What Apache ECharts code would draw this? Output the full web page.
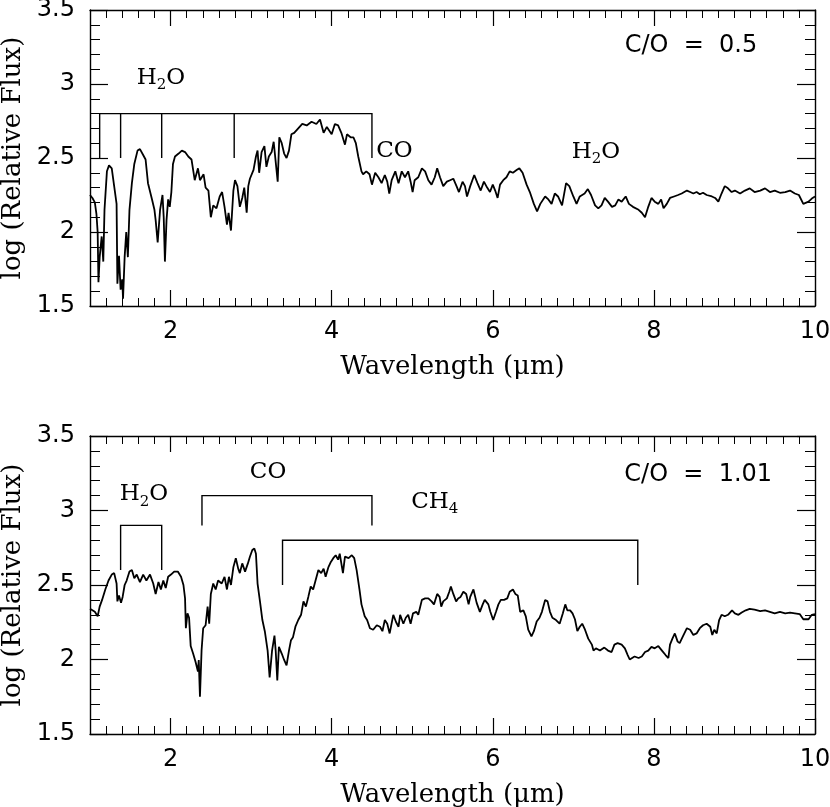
<!DOCTYPE html>
<html>
<head>
<meta charset="utf-8">
<title>Model spectra, C/O = 0.5 and 1.01</title>
<script src="https://cdn.jsdelivr.net/npm/echarts@6/dist/echarts.min.js"></script>
</head>
<body style="margin:0;background:#fff">
<div id="chart" style="width:830px;height:807px;"></div>
<script>
// tick values
var xMajorTicks = [2, 4, 6, 8, 10];

// spectrum, C/O = 0.5  [wavelength (um), log relative flux]
var specTop = [
  [1.00,2.25],[1.03,2.23],[1.06,2.20],[1.08,2.12],[1.095,2.00],[1.105,1.66],[1.12,1.83],[1.145,1.97],[1.165,1.80],[1.18,2.15],
  [1.21,2.41],[1.236,2.45],[1.27,2.43],[1.30,2.31],[1.33,2.19],[1.34,1.65],[1.36,1.84],[1.38,1.61],[1.40,1.68],[1.41,1.55],
  [1.43,1.83],[1.45,2.00],[1.47,1.83],[1.49,2.15],[1.52,2.33],[1.55,2.46],[1.59,2.55],[1.62,2.56],[1.66,2.52],[1.69,2.49],
  [1.72,2.33],[1.77,2.22],[1.80,2.15],[1.815,2.08],[1.84,1.93],[1.87,2.15],[1.90,2.25],[1.915,2.10],[1.93,1.80],[1.95,2.08],
  [1.97,2.22],[1.99,2.17],[2.01,2.27],[2.03,2.46],[2.055,2.51],[2.10,2.53],[2.14,2.55],[2.18,2.54],[2.22,2.51],[2.26,2.49],
  [2.30,2.35],[2.34,2.43],[2.365,2.35],[2.41,2.39],[2.435,2.30],[2.47,2.28],[2.50,2.10],[2.53,2.18],[2.57,2.16],[2.61,2.24],
  [2.64,2.27],[2.67,2.17],[2.70,2.05],[2.72,2.13],[2.75,2.01],[2.78,2.28],[2.80,2.35],[2.83,2.31],[2.86,2.17],[2.89,2.23],
  [2.915,2.30],[2.945,2.13],[2.965,2.31],[2.985,2.36],[3.03,2.42],[3.06,2.51],[3.08,2.55],[3.10,2.40],[3.13,2.54],[3.165,2.58],
  [3.19,2.44],[3.22,2.51],[3.255,2.54],[3.28,2.61],[3.30,2.62],[3.33,2.34],[3.35,2.64],[3.38,2.60],[3.41,2.53],[3.44,2.50],
  [3.47,2.55],[3.50,2.66],[3.535,2.67],[3.585,2.70],[3.635,2.73],[3.69,2.72],[3.75,2.745],[3.81,2.73],[3.855,2.76],[3.90,2.67],
  [3.94,2.71],[4.00,2.66],[4.04,2.73],[4.08,2.72],[4.12,2.67],[4.165,2.59],[4.19,2.66],[4.235,2.64],[4.27,2.64],[4.30,2.60],
  [4.33,2.51],[4.37,2.41],[4.39,2.39],[4.43,2.41],[4.47,2.39],[4.50,2.32],[4.54,2.40],[4.58,2.37],[4.62,2.33],[4.66,2.385],
  [4.69,2.34],[4.715,2.26],[4.745,2.35],[4.79,2.41],[4.83,2.33],[4.87,2.41],[4.91,2.37],[4.95,2.41],[4.98,2.34],[5.005,2.27],
  [5.03,2.35],[5.075,2.37],[5.12,2.43],[5.16,2.41],[5.20,2.35],[5.24,2.32],[5.28,2.37],[5.31,2.43],[5.345,2.37],[5.385,2.31],
  [5.43,2.34],[5.47,2.35],[5.51,2.36],[5.55,2.31],[5.58,2.27],[5.625,2.34],[5.655,2.31],[5.68,2.24],[5.72,2.31],[5.77,2.385],
  [5.81,2.33],[5.85,2.28],[5.89,2.34],[5.93,2.30],[5.965,2.27],[6.00,2.32],[6.03,2.28],[6.06,2.23],[6.09,2.32],[6.13,2.35],
  [6.17,2.37],[6.21,2.41],[6.25,2.40],[6.30,2.42],[6.33,2.43],[6.37,2.40],[6.42,2.32],[6.46,2.27],[6.51,2.19],[6.55,2.14],
  [6.59,2.19],[6.65,2.24],[6.69,2.22],[6.73,2.19],[6.77,2.26],[6.81,2.24],[6.86,2.18],[6.91,2.33],[6.95,2.31],[7.00,2.24],
  [7.04,2.19],[7.08,2.24],[7.14,2.26],[7.18,2.29],[7.22,2.25],[7.27,2.18],[7.31,2.16],[7.35,2.18],[7.39,2.23],[7.43,2.205],
  [7.48,2.17],[7.52,2.18],[7.56,2.22],[7.60,2.205],[7.65,2.24],[7.69,2.19],[7.74,2.17],[7.81,2.15],[7.85,2.13],[7.89,2.10],
  [7.93,2.17],[7.97,2.23],[8.01,2.205],[8.055,2.19],[8.09,2.22],[8.12,2.16],[8.16,2.19],[8.20,2.23],[8.25,2.24],[8.30,2.25],
  [8.345,2.26],[8.41,2.28],[8.45,2.27],[8.49,2.26],[8.53,2.27],[8.57,2.255],[8.61,2.265],[8.655,2.25],[8.72,2.24],[8.76,2.23],
  [8.80,2.205],[8.84,2.26],[8.88,2.31],[8.92,2.295],[8.965,2.27],[9.005,2.28],[9.07,2.26],[9.13,2.28],[9.19,2.295],[9.25,2.27],
  [9.32,2.28],[9.38,2.295],[9.44,2.27],[9.50,2.28],[9.565,2.265],[9.63,2.27],[9.69,2.28],[9.75,2.26],[9.80,2.25],[9.855,2.19],
  [9.92,2.205],[9.97,2.23],[10.0,2.24]
];

// spectrum, C/O = 1.01
var specBottom = [
  [1.00,2.34],[1.03,2.33],[1.06,2.32],[1.095,2.29],[1.12,2.355],[1.15,2.40],[1.19,2.47],[1.23,2.53],[1.27,2.57],[1.30,2.58],
  [1.33,2.51],[1.34,2.39],[1.36,2.43],[1.385,2.38],[1.405,2.42],[1.43,2.50],[1.455,2.53],[1.49,2.59],[1.52,2.60],[1.55,2.545],
  [1.58,2.57],[1.62,2.52],[1.66,2.57],[1.70,2.53],[1.745,2.57],[1.785,2.51],[1.815,2.44],[1.85,2.52],[1.88,2.47],[1.91,2.53],
  [1.94,2.48],[1.97,2.555],[2.005,2.57],[2.045,2.59],[2.09,2.59],[2.13,2.555],[2.16,2.50],[2.18,2.41],[2.19,2.21],[2.21,2.31],
  [2.23,2.28],[2.25,2.09],[2.28,2.04],[2.31,1.985],[2.34,1.92],[2.35,1.997],[2.365,1.75],[2.385,2.06],[2.405,2.21],[2.435,2.23],
  [2.46,2.355],[2.48,2.24],[2.50,2.44],[2.53,2.51],[2.56,2.47],[2.59,2.53],[2.635,2.51],[2.67,2.555],[2.70,2.47],[2.725,2.555],
  [2.75,2.50],[2.78,2.62],[2.81,2.68],[2.84,2.61],[2.86,2.58],[2.89,2.645],[2.925,2.59],[2.96,2.645],[2.985,2.69],[3.015,2.735],
  [3.04,2.745],[3.06,2.71],[3.08,2.51],[3.11,2.39],[3.14,2.265],[3.17,2.19],[3.205,2.06],[3.23,1.88],[3.26,2.06],[3.29,2.16],
  [3.305,2.06],[3.325,1.86],[3.345,2.085],[3.38,2.04],[3.41,1.997],[3.44,1.96],[3.47,2.06],[3.495,2.13],[3.52,2.15],[3.55,2.22],
  [3.585,2.265],[3.62,2.30],[3.65,2.39],[3.68,2.355],[3.71,2.42],[3.74,2.49],[3.77,2.47],[3.80,2.53],[3.835,2.60],[3.87,2.58],
  [3.90,2.61],[3.925,2.555],[3.96,2.62],[3.99,2.655],[4.02,2.68],[4.05,2.70],[4.08,2.67],[4.10,2.71],[4.14,2.58],[4.165,2.69],
  [4.21,2.68],[4.25,2.70],[4.28,2.68],[4.31,2.60],[4.345,2.47],[4.37,2.37],[4.41,2.29],[4.44,2.265],[4.475,2.21],[4.515,2.20],
  [4.56,2.23],[4.60,2.22],[4.63,2.19],[4.66,2.265],[4.69,2.24],[4.72,2.175],[4.765,2.30],[4.80,2.25],[4.83,2.22],[4.85,2.30],
  [4.89,2.24],[4.92,2.28],[4.95,2.30],[4.98,2.24],[5.01,2.31],[5.05,2.32],[5.075,2.30],[5.12,2.40],[5.16,2.41],[5.20,2.41],
  [5.24,2.39],[5.27,2.37],[5.31,2.44],[5.34,2.42],[5.36,2.355],[5.385,2.39],[5.43,2.41],[5.46,2.455],[5.48,2.49],[5.51,2.44],
  [5.545,2.39],[5.57,2.41],[5.60,2.42],[5.635,2.455],[5.67,2.44],[5.70,2.37],[5.72,2.42],[5.76,2.47],[5.80,2.38],[5.84,2.32],
  [5.875,2.37],[5.90,2.40],[5.945,2.37],[5.97,2.32],[6.005,2.265],[6.04,2.32],[6.07,2.37],[6.10,2.40],[6.14,2.40],[6.18,2.41],
  [6.21,2.455],[6.25,2.47],[6.28,2.44],[6.31,2.43],[6.34,2.32],[6.38,2.33],[6.41,2.29],[6.44,2.20],[6.48,2.155],[6.51,2.19],
  [6.545,2.255],[6.58,2.28],[6.61,2.32],[6.65,2.40],[6.68,2.39],[6.71,2.32],[6.74,2.28],[6.785,2.265],[6.83,2.24],[6.87,2.31],
  [6.90,2.37],[6.925,2.33],[6.96,2.33],[6.99,2.31],[7.02,2.27],[7.05,2.19],[7.08,2.22],[7.11,2.24],[7.145,2.20],[7.185,2.14],
  [7.23,2.10],[7.25,2.06],[7.28,2.075],[7.33,2.06],[7.385,2.08],[7.43,2.06],[7.475,2.05],[7.51,2.10],[7.55,2.11],[7.60,2.10],
  [7.64,2.075],[7.675,2.03],[7.70,2.00],[7.76,2.02],[7.81,2.01],[7.85,2.02],[7.89,2.05],[7.93,2.06],[7.97,2.085],[8.01,2.075],
  [8.055,2.09],[8.10,2.06],[8.145,2.03],[8.18,2.01],[8.20,2.10],[8.23,2.14],[8.26,2.175],[8.295,2.12],[8.32,2.11],[8.36,2.155],
  [8.41,2.21],[8.45,2.20],[8.49,2.165],[8.53,2.175],[8.57,2.21],[8.61,2.23],[8.655,2.24],[8.70,2.22],[8.725,2.165],[8.75,2.20],
  [8.78,2.175],[8.81,2.265],[8.84,2.30],[8.88,2.29],[8.92,2.30],[8.97,2.33],[9.005,2.31],[9.05,2.30],[9.09,2.315],[9.14,2.33],
  [9.19,2.34],[9.25,2.335],[9.32,2.325],[9.38,2.33],[9.44,2.32],[9.50,2.31],[9.565,2.32],[9.63,2.31],[9.69,2.315],[9.75,2.31],
  [9.81,2.305],[9.855,2.27],[9.92,2.27],[9.96,2.30],[10.0,2.305]
];

// band brackets (polylines in data units)
var bracketsTop = [
  [[1.12,2.5],[1.12,2.8],[4.5,2.8],[4.5,2.5]],
  [[1.38,2.8],[1.38,2.5]],
  [[1.89,2.8],[1.89,2.5]],
  [[2.79,2.8],[2.79,2.5]]
];
var bracketsBottom = [
  [[1.38,2.6],[1.38,2.9],[1.89,2.9],[1.89,2.6]],
  [[2.39,2.9],[2.39,3.1],[4.5,3.1],[4.5,2.9]],
  [[3.39,2.5],[3.39,2.8],[7.8,2.8],[7.8,2.5]]
];

// text labels: [x, y, text]
var labelsTop = [
  [1.88, 3.04, '{n|H}{s|2}{n|O}'],
  [4.78, 2.55, '{n|CO}'],
  [7.28, 2.54, '{n|H}{s|2}{n|O}'],
  [8.46, 3.26, '{c|C/O  =  0.5}']
];
var labelsBottom = [
  [1.67, 3.11, '{n|H}{s|2}{n|O}'],
  [3.21, 3.26, '{n|CO}'],
  [5.28, 3.06, '{n|CH}{s|4}'],
  [8.55, 3.24, '{c|C/O  =  1.01}']
];

var SANS = 'DejaVu Sans';
var SERIF = 'DejaVu Serif';
var ink = '#000';

var xMinorTicks = [];
for (var v = 12; v < 100; v += 2) xMinorTicks.push(v / 10);

function xAxesFor(g) {
  var lineSt = {color: ink, width: 1.4};
  var base = {gridIndex: g, type: 'value', min: 1, max: 10, splitLine: {show: false}};
  return [
    Object.assign({}, base, {
      position: 'bottom',
      axisLine: {show: true, onZero: false, lineStyle: lineSt},
      axisTick: {inside: true, length: 16, customValues: xMajorTicks, lineStyle: {color: ink, width: 1.2}},
      axisLabel: {customValues: xMajorTicks, margin: 14, fontSize: 24, color: ink, fontFamily: SANS},
      name: 'Wavelength (μm)', nameLocation: 'middle', nameGap: 48,
      nameTextStyle: {fontSize: 26, color: ink, fontFamily: SERIF}
    }),
    Object.assign({}, base, {
      position: 'bottom',
      axisLine: {show: false, onZero: false},
      axisTick: {inside: true, length: 8, customValues: xMinorTicks, lineStyle: {color: ink, width: 1}},
      axisLabel: {show: false}
    }),
    Object.assign({}, base, {
      position: 'top',
      axisLine: {show: true, onZero: false, lineStyle: lineSt},
      axisTick: {inside: true, length: 16, customValues: xMajorTicks, lineStyle: {color: ink, width: 1.2}},
      axisLabel: {show: false}
    }),
    Object.assign({}, base, {
      position: 'top',
      axisLine: {show: false, onZero: false},
      axisTick: {inside: true, length: 8, customValues: xMinorTicks, lineStyle: {color: ink, width: 1}},
      axisLabel: {show: false}
    })
  ];
}

function yAxesFor(g) {
  var base = {
    gridIndex: g, type: 'value', min: 1.5, max: 3.5, interval: 0.5,
    splitLine: {show: false},
    axisLine: {show: true, onZero: false, lineStyle: {color: ink, width: 1.4}},
    axisTick: {inside: true, length: 18, lineStyle: {color: ink, width: 1.2}},
    minorTick: {show: true, splitNumber: 5, length: 10, lineStyle: {color: ink, width: 1}}
  };
  return [
    Object.assign({}, base, {
      position: 'left',
      axisLabel: {margin: 15, fontSize: 24, color: ink, fontFamily: SANS,
        formatter: function (val) { return String(+val.toFixed(1)); }},
      name: 'log (Relative Flux)', nameLocation: 'middle', nameGap: 55,
      nameTextStyle: {fontSize: 26, color: ink, fontFamily: SERIF}
    }),
    Object.assign({}, base, {position: 'right', axisLabel: {show: false}})
  ];
}

var richText = {
  n: {fontFamily: SERIF, fontSize: 23, color: ink, lineHeight: 30},
  s: {fontFamily: SERIF, fontSize: 15, color: ink, lineHeight: 12, verticalAlign: 'bottom'},
  c: {fontFamily: SANS, fontSize: 24, color: ink, lineHeight: 30}
};

function panelSeries(spec, brackets, labels, g) {
  var xi = g * 4, yi = g * 2;
  return [
    {
      type: 'line', xAxisIndex: xi, yAxisIndex: yi,
      data: spec, showSymbol: false, symbol: 'none', silent: true,
      lineStyle: {color: ink, width: 1.8}
    },
    {
      type: 'lines', coordinateSystem: 'cartesian2d', xAxisIndex: xi, yAxisIndex: yi,
      polyline: true, silent: true,
      lineStyle: {color: ink, width: 1.4, opacity: 1, curveness: 0},
      data: brackets.map(function (b) { return {coords: b}; })
    },
    {
      type: 'scatter', xAxisIndex: xi, yAxisIndex: yi, silent: true,
      symbolSize: 1, itemStyle: {color: 'rgba(0,0,0,0)', opacity: 1},
      label: {show: true, position: 'inside', rich: richText, opacity: 1,
        formatter: function (p) { return p.data[2]; }},
      data: labels
    }
  ];
}

var chart = echarts.init(document.getElementById('chart'), null, {renderer: 'canvas'});
chart.setOption({
  animation: false,
  backgroundColor: '#fff',
  textStyle: {fontFamily: SANS},
  grid: [
    {left: 90, top: 10, width: 725, height: 296, containLabel: false, outerBoundsMode: 'none'},
    {left: 90, top: 436, width: 725, height: 298, containLabel: false, outerBoundsMode: 'none'}
  ],
  xAxis: xAxesFor(0).concat(xAxesFor(1)),
  yAxis: yAxesFor(0).concat(yAxesFor(1)),
  series: panelSeries(specTop, bracketsTop, labelsTop, 0)
    .concat(panelSeries(specBottom, bracketsBottom, labelsBottom, 1))
});
</script>
</body>
</html>
